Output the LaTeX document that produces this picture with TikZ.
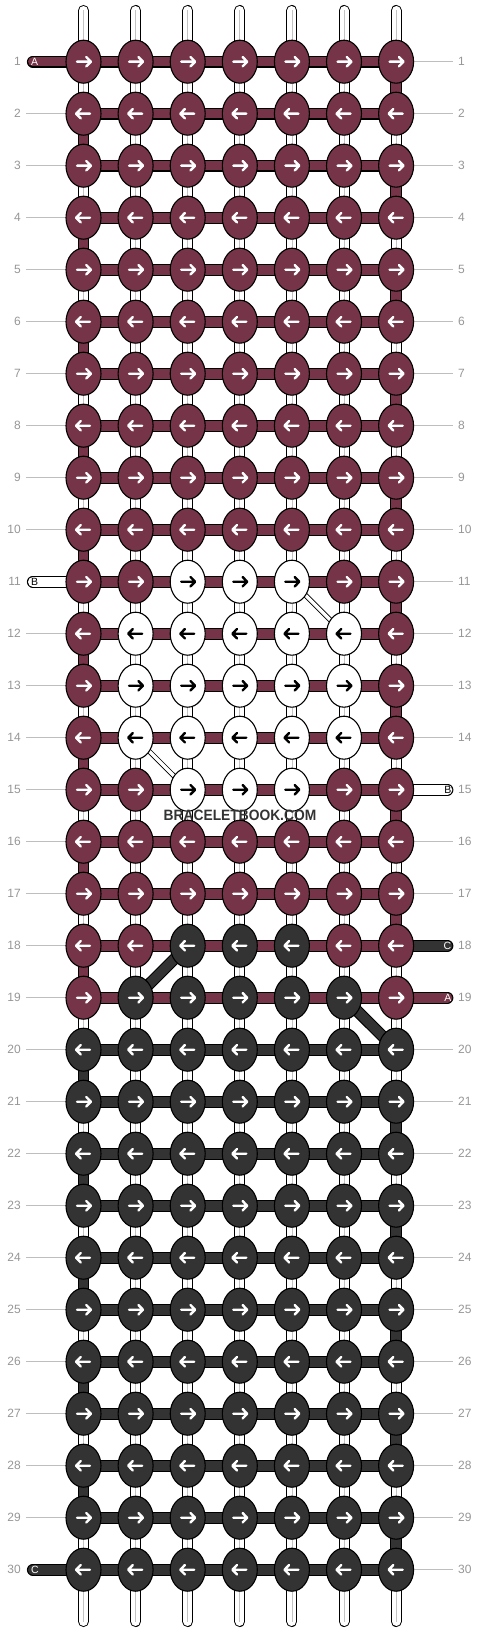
\documentclass[tikz,border=0pt]{standalone}
\usepackage{fontspec}
\setmainfont{Liberation Sans}
\usetikzlibrary{shapes.geometric,calc}
\definecolor{mar}{RGB}{118,52,72}
\definecolor{drk}{RGB}{51,51,51}
\definecolor{numgray}{RGB}{150,150,150}
\definecolor{linegray}{RGB}{190,190,190}
\definecolor{strandgray}{RGB}{195,195,195}
\colorlet{m}{mar}
\colorlet{w}{white}
\colorlet{d}{drk}
\colorlet{am}{white}
\colorlet{aw}{black}
\colorlet{ad}{white}
\newcommand{\cband}[4][butt]{%
  \draw[line width=11.8pt, line cap=#1, black] (#2) -- (#3);
  \draw[line width=9.6pt, line cap=#1, #4] (#2) -- (#3);}
\begin{document}
\begin{tikzpicture}[x=1pt,y=-1pt,
  knot/.style={ellipse, draw=black, line width=1.1pt, minimum width=35pt, minimum height=43pt, inner sep=0pt},
  arr/.style={line width=2.4pt, line cap=round, line join=round},
  rownum/.style={text=numgray, font=\fontsize{12}{12}\selectfont, inner sep=0pt},
  stublabel/.style={font=\fontsize{10.5}{10.5}\selectfont, inner sep=0pt},
  guide/.style={draw=linegray, line width=0.8pt}
]
\useasboundingbox (0,0) rectangle (480,1632);
% coordinates
\foreach \cc in {1,...,7}{
  \pgfmathsetmacro\xx{83.5+52.1*(\cc-1)}
  \coordinate (top-\cc) at (\xx,10.5);
  \coordinate (bot-\cc) at (\xx,1621.5);
}
\foreach \rr in {1,...,30}{\foreach \cc in {1,...,7}{
  \pgfmathsetmacro\xx{83.5+52.1*(\cc-1)}\pgfmathsetmacro\yy{61.7+52*(\rr-1)}
  \coordinate (p-\rr-\cc) at (\xx,\yy);}}
% row numbers and guide lines
\foreach \rr in {1,...,30}{
  \pgfmathsetmacro\yy{61.7+52*(\rr-1)}
  \node[rownum, anchor=east] (ln-\rr) at (21,\yy) {\rr};
  \node[rownum, anchor=west] (rn-\rr) at (458,\yy) {\rr};
  \coordinate (lg-\rr) at (26,\yy);
  \coordinate (rg-\rr) at (453.3,\yy);
}
\foreach \rr in {2,...,10,12,13,14,15,16,17,18,19,20,21,22,23,24,25,26,27,28,29}{
  \draw[guide] (lg-\rr) -- (p-\rr-1);}
\foreach \rr in {1,...,14,16,17,20,21,22,23,24,25,26,27,28,29,30}{
  \draw[guide] (p-\rr-7) -- (rg-\rr);}
% vertical strands
\foreach \cc in {1,...,7}{
  \draw[line width=11pt, line cap=round, black] (top-\cc) -- (bot-\cc);
  \draw[line width=9pt, line cap=round, white] (top-\cc) -- (bot-\cc);
  \draw[line width=0.8pt, strandgray] (top-\cc) -- (bot-\cc);
}
% horizontal bands
\foreach \rr in {1,...,19}{\cband{p-\rr-1}{p-\rr-7}{mar}}
\foreach \rr in {20,...,30}{\cband{p-\rr-1}{p-\rr-7}{drk}}
% turning connectors
\foreach \rr [evaluate=\rr as \ss using int(\rr+1)] in {1,3,...,17}{\cband{p-\rr-7}{p-\ss-7}{mar}}
\foreach \rr [evaluate=\rr as \ss using int(\rr+1)] in {21,23,...,29}{\cband{p-\rr-7}{p-\ss-7}{drk}}
\foreach \rr [evaluate=\rr as \ss using int(\rr+1)] in {2,4,...,18}{\cband{p-\rr-1}{p-\ss-1}{mar}}
\foreach \rr [evaluate=\rr as \ss using int(\rr+1)] in {20,22,...,28}{\cband{p-\rr-1}{p-\ss-1}{drk}}
% diagonals
\draw[line width=5pt, black] (p-11-5) -- (p-12-6);
\draw[line width=3.4pt, white] (p-11-5) -- (p-12-6);
\draw[line width=5pt, black] (p-14-2) -- (p-15-3);
\draw[line width=3.4pt, white] (p-14-2) -- (p-15-3);
\cband{p-18-3}{p-19-2}{drk}
\cband{p-19-6}{p-20-7}{drk}
% stubs
\coordinate (sA1) at (32.8,61.7);
\coordinate (sB11) at (32.8,581.7);
\coordinate (sC30) at (32.8,1569.7);
\coordinate (sB15) at (447.5,789.7);
\coordinate (sC18) at (447.5,945.7);
\coordinate (sA19) at (447.5,997.7);
\cband[round]{sA1}{p-1-1}{mar}
\cband[round]{sB11}{p-11-1}{white}
\cband[round]{sC30}{p-30-1}{drk}
\cband[round]{sB15}{p-15-7}{white}
\cband[round]{sC18}{p-18-7}{drk}
\cband[round]{sA19}{p-19-7}{mar}
\node[stublabel, text=white, anchor=west] (tA1) at (31,61.7) {A};
\node[stublabel, text=black, anchor=west] (tB11) at (31,581.7) {B};
\node[stublabel, text=white, anchor=west] (tC30) at (31,1569.7) {C};
\node[stublabel, text=black, anchor=east] (tB15) at (451.5,789.7) {B};
\node[stublabel, text=white, anchor=east] (tC18) at (451.5,945.7) {C};
\node[stublabel, text=white, anchor=east] (tA19) at (451.5,997.7) {A};
% knots
\foreach \rr/\qa/\qb/\qc/\qd/\qe/\qf/\qg in {
 1/m/m/m/m/m/m/m, 2/m/m/m/m/m/m/m, 3/m/m/m/m/m/m/m, 4/m/m/m/m/m/m/m, 5/m/m/m/m/m/m/m,
 6/m/m/m/m/m/m/m, 7/m/m/m/m/m/m/m, 8/m/m/m/m/m/m/m, 9/m/m/m/m/m/m/m, 10/m/m/m/m/m/m/m,
 11/m/m/w/w/w/m/m, 12/m/w/w/w/w/w/m, 13/m/w/w/w/w/w/m, 14/m/w/w/w/w/w/m, 15/m/m/w/w/w/m/m,
 16/m/m/m/m/m/m/m, 17/m/m/m/m/m/m/m, 18/m/m/d/d/d/m/m, 19/m/d/d/d/d/d/m, 20/d/d/d/d/d/d/d,
 21/d/d/d/d/d/d/d, 22/d/d/d/d/d/d/d, 23/d/d/d/d/d/d/d, 24/d/d/d/d/d/d/d, 25/d/d/d/d/d/d/d,
 26/d/d/d/d/d/d/d, 27/d/d/d/d/d/d/d, 28/d/d/d/d/d/d/d, 29/d/d/d/d/d/d/d, 30/d/d/d/d/d/d/d}{
  \ifodd\rr \def\dir{1}\else\def\dir{-1}\fi
  \foreach \cc/\kk in {1/\qa,2/\qb,3/\qc,4/\qd,5/\qe,6/\qf,7/\qg}{
    \pgfmathsetmacro\xa{83.5+52.1*(\cc-1)-6.5*\dir}
    \pgfmathsetmacro\xb{83.5+52.1*(\cc-1)+7*\dir}
    \pgfmathsetmacro\xc{83.5+52.1*(\cc-1)+2.8*\dir}
    \pgfmathsetmacro\xd{83.5+52.1*(\cc-1)+7.4*\dir}
    \pgfmathsetmacro\yy{61.7+52*(\rr-1)}
    \pgfmathsetmacro\ya{\yy-4.7}
    \pgfmathsetmacro\yb{\yy+4.7}
    \edef\acol{a\kk}
    \node[knot, fill=\kk] (k-\rr-\cc) at (p-\rr-\cc) {};
    \draw[arr, draw=\acol] (\xa,\yy) -- (\xb,\yy) (\xc,\ya) -- (\xd,\yy) -- (\xc,\yb);
  }
}
% watermark
\node[text=drk, font=\bfseries\fontsize{15}{15}\selectfont, xscale=0.92, inner sep=0pt] (wm) at (240,815) {BRACELETBOOK.COM};
\end{tikzpicture}
\end{document}
